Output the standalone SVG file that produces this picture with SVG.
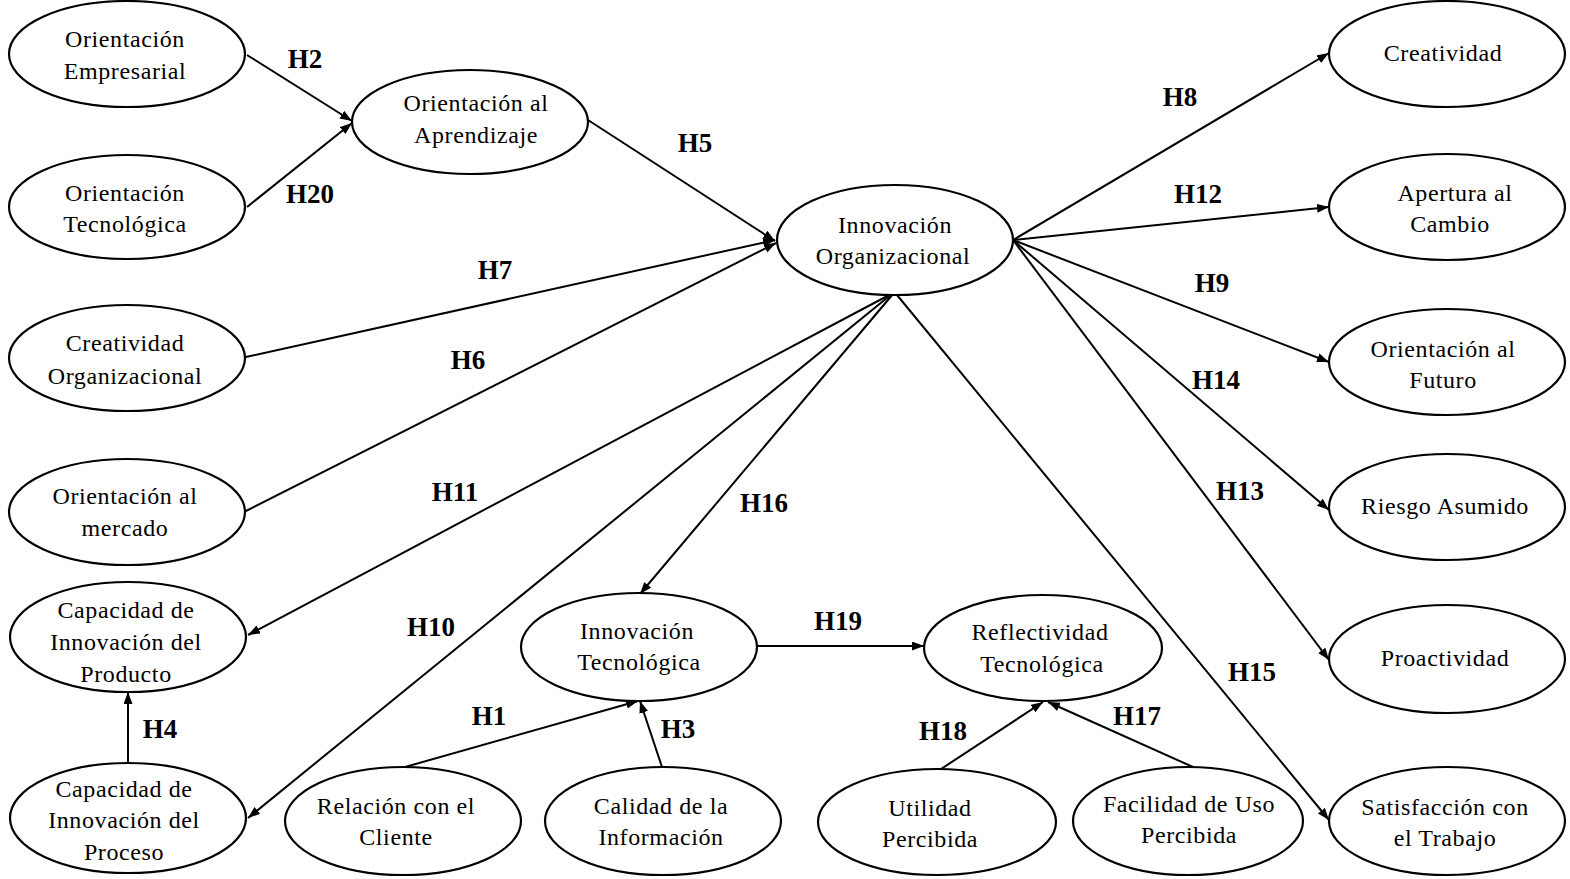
<svg xmlns="http://www.w3.org/2000/svg" width="1570" height="879" viewBox="0 0 1570 879">
  <style>
    .node ellipse { fill: #ffffff; stroke: #000000; stroke-width: 2.2; }
    .node text { font-family: "Liberation Serif", "Times New Roman", serif; font-size: 24px; letter-spacing: 0.6px; text-anchor: middle; fill: #000000; }
    .edges line { stroke: #000000; stroke-width: 2; }
    .lbl { font-family: "Liberation Serif", "Times New Roman", serif; font-size: 27px; font-weight: bold; text-anchor: middle; fill: #000000; }
  </style>
  <defs>
    <marker id="arrow" markerUnits="userSpaceOnUse" markerWidth="13" markerHeight="10" refX="12" refY="4.5" orient="auto">
      <path d="M0,0 L12,4.5 L0,9 z" fill="#000000"/>
    </marker>
  </defs>
  <rect width="1570" height="879" fill="#ffffff"/>

  <!-- connectors -->
  <g id="edges" class="edges" marker-end="url(#arrow)">
    <line x1="247" y1="55" x2="352" y2="121" marker-end="url(#arrow)"/>
    <line x1="247" y1="207" x2="352" y2="123" marker-end="url(#arrow)"/>
    <line x1="588" y1="120" x2="775" y2="241" marker-end="url(#arrow)"/>
    <line x1="246" y1="357" x2="775" y2="240" marker-end="url(#arrow)"/>
    <line x1="246" y1="511" x2="776" y2="243" marker-end="url(#arrow)"/>
    <line x1="893" y1="293" x2="248" y2="635" marker-end="url(#arrow)"/>
    <line x1="893" y1="293" x2="248" y2="818" marker-end="url(#arrow)"/>
    <line x1="893" y1="294" x2="640" y2="594" marker-end="url(#arrow)"/>
    <line x1="897" y1="295" x2="1329" y2="820" marker-end="url(#arrow)"/>
    <line x1="1013" y1="240" x2="1329" y2="53" marker-end="url(#arrow)"/>
    <line x1="1013" y1="240" x2="1329" y2="207" marker-end="url(#arrow)"/>
    <line x1="1013" y1="240" x2="1329" y2="362" marker-end="url(#arrow)"/>
    <line x1="1013" y1="240" x2="1329" y2="510" marker-end="url(#arrow)"/>
    <line x1="1013" y1="240" x2="1329" y2="660" marker-end="url(#arrow)"/>
    <line x1="758" y1="646" x2="924" y2="646" marker-end="url(#arrow)"/>
    <line x1="405" y1="767" x2="638" y2="701" marker-end="url(#arrow)"/>
    <line x1="662" y1="767" x2="640" y2="701" marker-end="url(#arrow)"/>
    <line x1="938" y1="771" x2="1043" y2="702" marker-end="url(#arrow)"/>
    <line x1="1193" y1="767" x2="1048" y2="702" marker-end="url(#arrow)"/>
    <line x1="128" y1="763" x2="128" y2="692" marker-end="url(#arrow)"/>
  </g>

  <!-- hypothesis labels -->
  <g id="labels">
    <text class="lbl" x="305" y="68">H2</text>
    <text class="lbl" x="310" y="203">H20</text>
    <text class="lbl" x="695" y="152">H5</text>
    <text class="lbl" x="495" y="279">H7</text>
    <text class="lbl" x="468" y="369">H6</text>
    <text class="lbl" x="455" y="501">H11</text>
    <text class="lbl" x="431" y="636">H10</text>
    <text class="lbl" x="764" y="512">H16</text>
    <text class="lbl" x="1180" y="106">H8</text>
    <text class="lbl" x="1198" y="203">H12</text>
    <text class="lbl" x="1212" y="292">H9</text>
    <text class="lbl" x="1216" y="389">H14</text>
    <text class="lbl" x="1240" y="500">H13</text>
    <text class="lbl" x="1252" y="681">H15</text>
    <text class="lbl" x="838" y="630">H19</text>
    <text class="lbl" x="489" y="725">H1</text>
    <text class="lbl" x="678" y="738">H3</text>
    <text class="lbl" x="160" y="738">H4</text>
    <text class="lbl" x="943" y="740">H18</text>
    <text class="lbl" x="1137" y="725">H17</text>
  </g>

  <!-- left column -->
  <g id="orientacion-empresarial" class="node">
    <ellipse cx="127" cy="54" rx="118" ry="53"/>
    <text x="125" y="47">Orientación</text>
    <text x="125" y="79">Empresarial</text>
  </g>
  <g id="orientacion-tecnologica" class="node">
    <ellipse cx="127" cy="207" rx="118" ry="52"/>
    <text x="125" y="201">Orientación</text>
    <text x="125" y="232">Tecnológica</text>
  </g>
  <g id="creatividad-organizacional" class="node">
    <ellipse cx="127" cy="358" rx="118" ry="53"/>
    <text x="125" y="351">Creatividad</text>
    <text x="125" y="384">Organizacional</text>
  </g>
  <g id="orientacion-mercado" class="node">
    <ellipse cx="127" cy="512" rx="118" ry="53"/>
    <text x="125" y="504">Orientación al</text>
    <text x="125" y="536">mercado</text>
  </g>
  <g id="capacidad-producto" class="node">
    <ellipse cx="128" cy="637" rx="118" ry="55"/>
    <text x="126" y="618">Capacidad de</text>
    <text x="126" y="650">Innovación del</text>
    <text x="126" y="682">Producto</text>
  </g>
  <g id="capacidad-proceso" class="node">
    <ellipse cx="128" cy="818" rx="118" ry="55"/>
    <text x="124" y="797">Capacidad de</text>
    <text x="124" y="828">Innovación del</text>
    <text x="124" y="860">Proceso</text>
  </g>

  <!-- centre -->
  <g id="orientacion-aprendizaje" class="node">
    <ellipse cx="470" cy="122" rx="118" ry="52"/>
    <text x="476" y="111">Orientación al</text>
    <text x="476" y="143">Aprendizaje</text>
  </g>
  <g id="innovacion-organizacional" class="node">
    <ellipse cx="895" cy="240" rx="118" ry="55"/>
    <text x="895" y="233">Innovación</text>
    <text x="893" y="264">Organizacional</text>
  </g>
  <g id="innovacion-tecnologica" class="node">
    <ellipse cx="639" cy="647" rx="118" ry="54"/>
    <text x="637" y="639">Innovación</text>
    <text x="639" y="670">Tecnológica</text>
  </g>
  <g id="reflectividad-tecnologica" class="node">
    <ellipse cx="1043" cy="648" rx="119" ry="53"/>
    <text x="1040" y="640">Reflectividad</text>
    <text x="1042" y="672">Tecnológica</text>
  </g>
  <g id="relacion-cliente" class="node">
    <ellipse cx="403" cy="821" rx="118" ry="54"/>
    <text x="396" y="814">Relación con el</text>
    <text x="396" y="845">Cliente</text>
  </g>
  <g id="calidad-informacion" class="node">
    <ellipse cx="663" cy="821" rx="118" ry="54"/>
    <text x="661" y="814">Calidad de la</text>
    <text x="661" y="845">Información</text>
  </g>
  <g id="utilidad-percibida" class="node">
    <ellipse cx="937" cy="822" rx="119" ry="53"/>
    <text x="930" y="816">Utilidad</text>
    <text x="930" y="847">Percibida</text>
  </g>
  <g id="facilidad-uso" class="node">
    <ellipse cx="1188" cy="821" rx="115" ry="54"/>
    <text x="1189" y="812">Facilidad de Uso</text>
    <text x="1189" y="843">Percibida</text>
  </g>

  <!-- right column -->
  <g id="creatividad" class="node">
    <ellipse cx="1447" cy="54" rx="118" ry="53"/>
    <text x="1443" y="61">Creatividad</text>
  </g>
  <g id="apertura-cambio" class="node">
    <ellipse cx="1447" cy="207" rx="118" ry="53"/>
    <text x="1455" y="201">Apertura al</text>
    <text x="1450" y="232">Cambio</text>
  </g>
  <g id="orientacion-futuro" class="node">
    <ellipse cx="1447" cy="362" rx="118" ry="53"/>
    <text x="1443" y="357">Orientación al</text>
    <text x="1443" y="388">Futuro</text>
  </g>
  <g id="riesgo-asumido" class="node">
    <ellipse cx="1447" cy="507" rx="118" ry="53"/>
    <text x="1445" y="514">Riesgo Asumido</text>
  </g>
  <g id="proactividad" class="node">
    <ellipse cx="1447" cy="659" rx="118" ry="54"/>
    <text x="1445" y="666">Proactividad</text>
  </g>
  <g id="satisfaccion-trabajo" class="node">
    <ellipse cx="1447" cy="821" rx="118" ry="54"/>
    <text x="1445" y="815">Satisfacción con</text>
    <text x="1445" y="846">el Trabajo</text>
  </g>
</svg>
